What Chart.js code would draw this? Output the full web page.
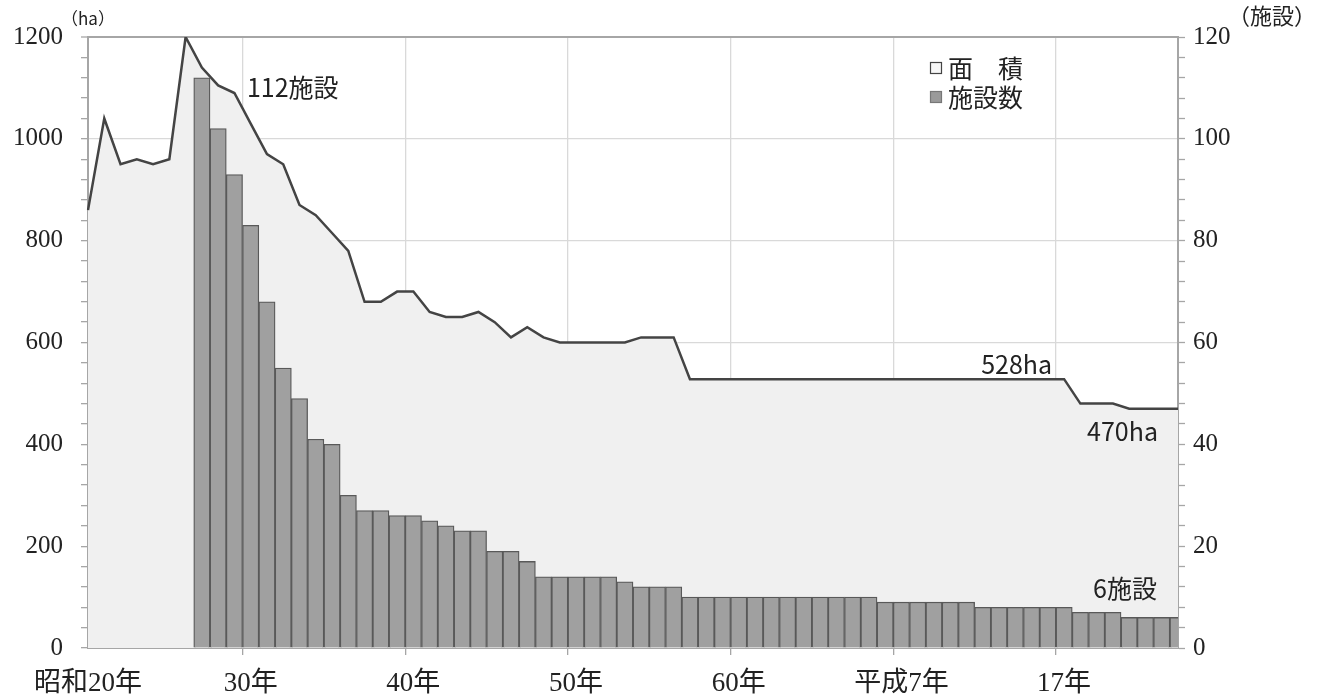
<!DOCTYPE html>
<html lang="ja">
<head>
<meta charset="utf-8">
<title>面積と施設数の推移</title>
<script src="https://cdn.jsdelivr.net/npm/chart.js@4.4.1/dist/chart.umd.min.js"></script>
<style>
	html, body { margin: 0; padding: 0; background: #fff; }
	#wrap { width: 1327px; height: 699px; position: relative; }
</style>
</head>
<body>
<div id="wrap"><canvas id="myChart"></canvas></div>
<script>
var years = [
	'昭和20年','昭和21年','昭和22年','昭和23年','昭和24年','昭和25年','昭和26年','昭和27年','昭和28年','昭和29年',
	'昭和30年','昭和31年','昭和32年','昭和33年','昭和34年','昭和35年','昭和36年','昭和37年','昭和38年','昭和39年',
	'昭和40年','昭和41年','昭和42年','昭和43年','昭和44年','昭和45年','昭和46年','昭和47年','昭和48年','昭和49年',
	'昭和50年','昭和51年','昭和52年','昭和53年','昭和54年','昭和55年','昭和56年','昭和57年','昭和58年','昭和59年',
	'昭和60年','昭和61年','昭和62年','昭和63年','平成元年','平成2年','平成3年','平成4年','平成5年','平成6年',
	'平成7年','平成8年','平成9年','平成10年','平成11年','平成12年','平成13年','平成14年','平成15年','平成16年',
	'平成17年','平成18年','平成19年','平成20年','平成21年','平成22年','平成23年','平成24年'
];

// labels shown under the axis, one every 10 years
var tickLabels = ['昭和20年', '30年', '40年', '50年', '60年', '平成7年', '17年'];

// 面積 (ha)
var area = [
	860, 1040, 950, 960, 950, 960, 1200, 1140, 1105, 1090,
	1030, 970, 950, 870, 850, 815, 780, 680, 680, 700,
	700, 660, 650, 650, 660, 640, 610, 630, 610, 600,
	600, 600, 600, 600, 610, 610, 610, 528, 528, 528,
	528, 528, 528, 528, 528, 528, 528, 528, 528, 528,
	528, 528, 528, 528, 528, 528, 528, 528, 528, 528,
	528, 480, 480, 480, 470, 470, 470, 470
];

// 施設数
var shisetsu = [
	null, null, null, null, null, null, null, 112, 102, 93,
	83, 68, 55, 49, 41, 40, 30, 27, 27, 26,
	26, 25, 24, 23, 23, 19, 19, 17, 14, 14,
	14, 14, 14, 13, 12, 12, 12, 10, 10, 10,
	10, 10, 10, 10, 10, 10, 10, 10, 10, 9,
	9, 9, 9, 9, 9, 8, 8, 8, 8, 8,
	8, 7, 7, 7, 6, 6, 6, 6
];

var serif = "'Liberation Serif', 'Noto Sans CJK JP', serif";
var gothic = "'Noto Sans CJK JP', sans-serif";
var axisGrey = '#a6a6a6';
var gridGrey = '#d9d9d9';
var none = 'rgba(0,0,0,0)';

var notes = {
	id: 'notes',
	afterDraw: function(chart) {
		var ctx = chart.ctx;
		var x = chart.scales.x, y = chart.scales.y, y2 = chart.scales.y2;
		var ds = chart.data.datasets;
		ctx.save();
		ctx.fillStyle = '#222';
		ctx.textBaseline = 'middle';

		// units
		ctx.textAlign = 'center';
		ctx.font = '17px ' + gothic;
		ctx.fillText('（ha）', chart.chartArea.left, 19);
		ctx.font = '22px ' + gothic;
		ctx.fillText('（施設）', 1272, 16);

		// data labels
		ctx.font = '25px ' + gothic;
		ctx.textAlign = 'left';
		ctx.fillText('112施設', x.getPixelForValue(7) + 45, y2.getPixelForValue(112) + 10);
		ctx.textAlign = 'right';
		ctx.fillText('528ha', x.getPixelForValue(60) - 12, y.getPixelForValue(528) - 15);
		ctx.fillText('470ha', x.getPixelForValue(67) - 20, y.getPixelForValue(470) + 23);
		ctx.fillText('6施設', x.getPixelForValue(67) - 21, y2.getPixelForValue(6) - 29);

		// legend
		ctx.textAlign = 'left';
		ctx.lineWidth = 1.2;
		ctx.fillStyle = '#f7f7f7';
		ctx.strokeStyle = '#444';
		ctx.fillRect(930, 62, 12, 12);
		ctx.strokeRect(930.5, 62.5, 11, 11);
		ctx.fillStyle = '#9a9a9a';
		ctx.strokeStyle = '#777';
		ctx.fillRect(930, 91, 12, 12);
		ctx.strokeRect(930.5, 91.5, 11, 11);
		ctx.fillStyle = '#222';
		ctx.fillText(ds[1].label, 948, 68);
		ctx.fillText(ds[0].label, 948, 97);
		ctx.restore();
	}
};

var ctx = document.getElementById('myChart');
var myChart = new Chart(ctx, {
	data: {
		labels: years,
		datasets: [{
			type: 'bar',
			label: '施設数',
			data: shisetsu,
			yAxisID: 'y2',
			backgroundColor: '#a0a0a0',
			borderColor: '#595959',
			borderWidth: 1.3,
			barPercentage: 1,
			categoryPercentage: 1,
			clip: 0,
			order: 1
		}, {
			type: 'line',
			label: '面　積',
			data: area,
			yAxisID: 'y',
			fill: 'origin',
			backgroundColor: '#f0f0f0',
			borderColor: '#444',
			borderWidth: 2.5,
			pointRadius: 0,
			tension: 0,
			order: 2
		}]
	},
	options: {
		responsive: true,
		maintainAspectRatio: false,
		animation: false,
		layout: { padding: { top: 37 } },
		plugins: {
			legend: { display: false },
			tooltip: { enabled: false }
		},
		scales: {
			x: {
				type: 'category',
				offset: false,
				border: { color: axisGrey, width: 2 },
				grid: {
					color: function(c) { return c.index % 10 === 0 ? gridGrey : none; },
					tickColor: function(c) { return c.index % 10 === 0 ? axisGrey : none; },
					lineWidth: 1.3,
					tickLength: 7
				},
				ticks: {
					autoSkip: false,
					maxRotation: 0,
					padding: 13,
					color: '#222',
					font: { family: serif, size: 27 },
					callback: function(val, i) { return i % 10 === 0 ? tickLabels[i / 10] : ''; }
				},
				afterFit: function(s) { s.height = 51; }
			},
			y: {
				position: 'left',
				min: 0,
				max: 1200,
				border: { color: axisGrey, width: 2 },
				grid: {
					color: function(c) {
						var v = c.tick.value;
						if (v === 1200) return axisGrey;
						return v % 200 === 0 ? gridGrey : none;
					},
					lineWidth: function(c) { return c.tick.value === 1200 ? 2 : 1.3; },
					tickColor: axisGrey,
					tickWidth: 1.3,
					tickLength: 7
				},
				ticks: {
					stepSize: 40,
					autoSkip: false,
					padding: 18,
					color: '#222',
					font: { family: serif, size: 25 },
					callback: function(v) { return v % 200 === 0 ? v : ''; }
				},
				afterFit: function(s) { s.width = 88; }
			},
			y2: {
				position: 'right',
				min: 0,
				max: 120,
				border: { color: axisGrey, width: 2 },
				grid: {
					drawOnChartArea: false,
					tickColor: axisGrey,
					tickWidth: 1.3,
					tickLength: 7
				},
				ticks: {
					stepSize: 4,
					autoSkip: false,
					padding: 8,
					color: '#222',
					font: { family: serif, size: 25 },
					callback: function(v) { return v % 20 === 0 ? v : ''; }
				},
				afterFit: function(s) { s.width = 149; }
			}
		}
	},
	plugins: [notes]
});
</script>
</body>
</html>
